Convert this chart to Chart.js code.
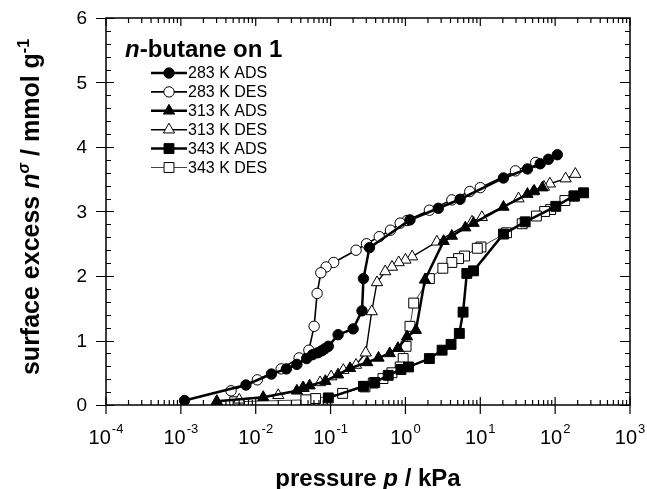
<!DOCTYPE html>
<html>
<head>
<meta charset="utf-8">
<script src="https://cdn.jsdelivr.net/npm/chart.js@4"></script>
<style>
  html, body { margin: 0; padding: 0; background: #fff; }
  #wrap { width: 647px; height: 489px; }
</style>
</head>
<body>
<div id="wrap"><canvas id="isothermChart" width="647" height="489"></canvas></div>
<script>
// pressure (kPa) and surface excess (mmol/g)
const p283Ads = [0.00112, 0.0074, 0.0162, 0.0257, 0.0355, 0.0479, 0.0575, 0.0676, 0.0759, 0.0832, 0.0933, 0.126, 0.200, 0.263, 0.275, 0.331, 1.15, 2.75, 5.37, 20.4, 42.7, 63.1, 81.3, 107];
const n283Ads = [0.07, 0.31, 0.48, 0.56, 0.63, 0.72, 0.78, 0.81, 0.84, 0.87, 0.91, 1.09, 1.18, 1.46, 1.96, 2.44, 2.87, 3.05, 3.19, 3.52, 3.66, 3.74, 3.81, 3.88];

const p283Des = [55.0, 29.5, 10.0, 7.24, 4.17, 2.09, 1.05, 0.851, 0.631, 0.447, 0.302, 0.219, 0.110, 0.0871, 0.0741, 0.0661, 0.0603, 0.0513, 0.0380, 0.0219, 0.0105, 0.00468];
const n283Des = [3.76, 3.63, 3.37, 3.31, 3.18, 3.02, 2.86, 2.82, 2.71, 2.61, 2.50, 2.40, 2.21, 2.14, 2.05, 1.73, 1.22, 0.85, 0.73, 0.56, 0.39, 0.22];

const p313Ads = [0.00302, 0.0126, 0.0355, 0.0427, 0.0525, 0.0851, 0.126, 0.182, 0.309, 0.437, 0.617, 0.794, 1.05, 1.38, 1.82, 3.24, 4.17, 6.31, 8.13, 20.4, 42.7, 52.5, 67.6];
const n313Ads = [0.06, 0.12, 0.22, 0.27, 0.30, 0.37, 0.47, 0.57, 0.66, 0.73, 0.80, 0.88, 1.06, 1.16, 1.94, 2.54, 2.62, 2.75, 2.82, 3.07, 3.27, 3.32, 3.37];

const p313Des = [186, 138, 85.1, 70.8, 51.3, 32.4, 10.5, 7.76, 2.63, 1.23, 1.00, 0.813, 0.661, 0.537, 0.417, 0.355, 0.295, 0.219, 0.148, 0.102, 0.0724, 0.0437, 0.0200, 0.00603];
const n313Des = [3.58, 3.51, 3.43, 3.38, 3.31, 3.20, 2.91, 2.84, 2.53, 2.30, 2.25, 2.21, 2.14, 2.07, 1.90, 1.45, 0.81, 0.62, 0.54, 0.44, 0.35, 0.26, 0.15, 0.08];

const p343Ads = [0.0933, 0.275, 0.389, 0.589, 0.871, 1.10, 2.09, 3.09, 4.07, 5.25, 5.89, 6.61, 8.13, 20.4, 39.8, 102, 178, 240];
const n343Ads = [0.11, 0.29, 0.35, 0.46, 0.55, 0.59, 0.72, 0.85, 0.94, 1.11, 1.44, 2.04, 2.08, 2.65, 2.84, 3.08, 3.24, 3.29];

const p343Des = [182, 135, 87.1, 72.4, 56.2, 36.3, 22.4, 10.2, 9.12, 6.17, 5.13, 4.17, 3.16, 2.09, 1.29, 1.15, 1.02, 0.933, 0.851, 0.661, 0.501, 0.372, 0.288, 0.145, 0.0631, 0.0468, 0.00525];
const n343Des = [3.24, 3.17, 3.03, 3.00, 2.93, 2.81, 2.67, 2.45, 2.43, 2.31, 2.27, 2.21, 2.12, 1.96, 1.58, 1.22, 0.91, 0.72, 0.59, 0.50, 0.41, 0.34, 0.28, 0.18, 0.10, 0.08, 0.05];

const seriesLabels = ["283 K ADS", "283 K DES", "313 K ADS", "313 K DES", "343 K ADS", "343 K DES"];
const xTickPowers = [-4, -3, -2, -1, 0, 1, 2, 3];
const yTickValues = [0, 1, 2, 3, 4, 5, 6];

const FONT = "'Liberation Sans', Arial, sans-serif";

function toPoints(px, ny) {
  return px.map((p, i) => ({ x: p, y: ny[i] }));
}

function series(label, px, ny, shape, filled, lineWidth, lineColor, radius) {
  return {
    label: label,
    data: toPoints(px, ny),
    showLine: true,
    borderColor: lineColor,
    borderWidth: lineWidth,
    pointStyle: shape,
    pointRadius: radius,
    pointHoverRadius: radius,
    pointBackgroundColor: filled ? "#000" : "#fff",
    pointBorderColor: "#000",
    pointBorderWidth: 1,
    tension: 0,
  };
}

// draws the box, ticks, tick labels, axis titles and the legend
const framePlugin = {
  id: "frame",
  afterDraw(chart) {
    const ctx = chart.ctx;
    const a = chart.chartArea;
    const xs = chart.scales.x;
    const ys = chart.scales.y;
    ctx.save();
    ctx.strokeStyle = "#000";
    ctx.fillStyle = "#000";
    ctx.lineWidth = 1.5;
    ctx.strokeRect(a.left, a.top, a.right - a.left, a.bottom - a.top);

    ctx.lineWidth = 1.2;
    ctx.beginPath();
    // log x ticks
    for (let k = -4; k <= 3; k++) {
      const x = xs.getPixelForValue(Math.pow(10, k));
      ctx.moveTo(x, a.bottom - 8); ctx.lineTo(x, a.bottom + 9);
      ctx.moveTo(x, a.top); ctx.lineTo(x, a.top + 8);
      if (k < 3) {
        for (let m = 2; m <= 9; m++) {
          const xm = xs.getPixelForValue(m * Math.pow(10, k));
          ctx.moveTo(xm, a.bottom); ctx.lineTo(xm, a.bottom - 5);
          ctx.moveTo(xm, a.top); ctx.lineTo(xm, a.top + 5);
        }
      }
    }
    // linear y ticks
    for (let v = 0; v <= 6.001; v += 0.2) {
      const y = Math.round(ys.getPixelForValue(v)) + 0.5;
      const major = Math.abs(v - Math.round(v)) < 0.01;
      if (major) {
        ctx.moveTo(a.left - 10, y); ctx.lineTo(a.left + 8, y);
        ctx.moveTo(a.right, y); ctx.lineTo(a.right - 10, y);
      } else {
        ctx.moveTo(a.left, y); ctx.lineTo(a.left + 5, y);
        ctx.moveTo(a.right, y); ctx.lineTo(a.right - 5, y);
      }
    }
    ctx.stroke();

    // y tick labels
    ctx.font = "19px " + FONT;
    ctx.textAlign = "right";
    ctx.textBaseline = "middle";
    yTickValues.forEach(v => ctx.fillText(String(v), a.left - 19, ys.getPixelForValue(v) + 1));

    // x tick labels 10^k, centred on the tick
    ctx.textBaseline = "alphabetic";
    ctx.textAlign = "left";
    xTickPowers.forEach(k => {
      const x = xs.getPixelForValue(Math.pow(10, k));
      const exp = String(k);
      ctx.font = "13px " + FONT;
      const we = ctx.measureText(exp).width;
      ctx.font = "20px " + FONT;
      const wb = ctx.measureText("10").width;
      const left = x - (wb + we + 1) / 2;
      ctx.fillText("10", left, 444);
      ctx.font = "13px " + FONT;
      ctx.fillText(exp, left + wb + 1, 433);
    });

    // x title
    drawRuns(ctx, [
      { t: "pressure ", f: "bold 24px " + FONT },
      { t: "p", f: "italic bold 24px " + FONT },
      { t: " / kPa", f: "bold 24px " + FONT },
    ], (a.left + a.right) / 2, 486, true);

    // y title, rotated
    ctx.save();
    ctx.translate(39, 207);
    ctx.rotate(-Math.PI / 2);
    drawRuns(ctx, [
      { t: "surface excess ", f: "bold 25px " + FONT },
      { t: "n", f: "italic bold 25px " + FONT },
      { t: "\u03c3", f: "italic bold 16px " + FONT, dy: -10 },
      { t: " / mmol g", f: "bold 25px " + FONT },
      { t: "-1", f: "bold 16px " + FONT, dy: -10 },
    ], 0, 0, true);
    ctx.restore();

    // legend
    drawRuns(ctx, [
      { t: "n", f: "italic bold 24px " + FONT },
      { t: "-butane on 1", f: "bold 24px " + FONT },
    ], 125, 57, false);
    ctx.font = "16px " + FONT;
    ctx.textAlign = "left";
    ctx.textBaseline = "middle";
    chart.data.datasets.forEach((ds, i) => {
      const y = 73 + i * 18.9;
      ctx.strokeStyle = ds.borderColor;
      ctx.lineWidth = ds.borderWidth;
      ctx.beginPath();
      ctx.moveTo(151, y); ctx.lineTo(187, y);
      ctx.stroke();
      drawMarker(ctx, ds.pointStyle, 169, y, ds.pointRadius, ds.pointBackgroundColor);
      ctx.fillStyle = "#000";
      ctx.fillText(ds.label, 188, y + 1);
    });
    ctx.restore();
  },
};

function drawRuns(ctx, runs, x, y, center) {
  let total = 0;
  runs.forEach(r => { ctx.font = r.f; r.w = ctx.measureText(r.t).width; total += r.w; });
  let cx = center ? x - total / 2 : x;
  ctx.textAlign = "left";
  ctx.textBaseline = "alphabetic";
  runs.forEach(r => {
    ctx.font = r.f;
    ctx.fillText(r.t, cx, y + (r.dy || 0));
    cx += r.w;
  });
}

function drawMarker(ctx, shape, x, y, r, fill) {
  ctx.save();
  ctx.fillStyle = fill;
  ctx.strokeStyle = "#000";
  ctx.lineWidth = 1;
  ctx.beginPath();
  if (shape === "circle") {
    ctx.arc(x, y, r, 0, Math.PI * 2);
  } else if (shape === "triangle") {
    ctx.moveTo(x, y - r);
    ctx.lineTo(x + r * 0.866, y + r * 0.5);
    ctx.lineTo(x - r * 0.866, y + r * 0.5);
    ctx.closePath();
  } else {
    const s = r * Math.SQRT1_2;
    ctx.rect(x - s, y - s, 2 * s, 2 * s);
  }
  ctx.fill();
  ctx.stroke();
  ctx.restore();
}

const ctx = document.getElementById("isothermChart").getContext("2d");

const isothermChart = new Chart(ctx, {
  type: "scatter",
  data: {
    datasets: [
      series(seriesLabels[0], p283Ads, n283Ads, "circle", true, 2.5, "#000", 5.2),
      series(seriesLabels[1], p283Des, n283Des, "circle", false, 1.6, "#000", 5.2),
      series(seriesLabels[2], p313Ads, n313Ads, "triangle", true, 2.5, "#000", 6.5),
      series(seriesLabels[3], p313Des, n313Des, "triangle", false, 1.4, "#000", 6.5),
      series(seriesLabels[4], p343Ads, n343Ads, "rect", true, 2.5, "#000", 7),
      series(seriesLabels[5], p343Des, n343Des, "rect", false, 1, "#444", 7),
    ],
  },
  options: {
    responsive: false,
    animation: false,
    devicePixelRatio: 1,
    layout: { padding: { left: 106, right: 17, top: 18, bottom: 84 } },
    plugins: {
      legend: { display: false },
      tooltip: { enabled: false },
    },
    scales: {
      x: { type: "logarithmic", min: 1e-4, max: 1e3, display: false },
      y: { type: "linear", min: 0, max: 6, display: false },
    },
  },
  plugins: [framePlugin],
});
</script>
</body>
</html>
